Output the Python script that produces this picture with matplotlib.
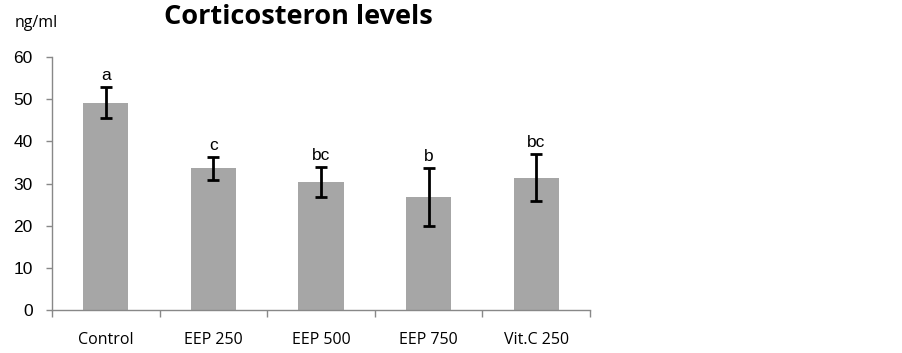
import numpy as np
import matplotlib.pyplot as plt

categories = ["Control", "EEP 250", "EEP 500", "EEP 750", "Vit.C 250"]
means = [49.1, 33.6, 30.3, 26.8, 31.3]
err_up = [52.8, 36.3, 33.8, 33.7, 36.9]
err_low = [45.5, 30.9, 26.9, 20.0, 25.9]
letters = ["a", "c", "bc", "b", "bc"]

means = np.array(means)
yerr = [means - np.array(err_low), np.array(err_up) - means]

fig = plt.figure(figsize=(9.02, 3.53), dpi=100)
ax = fig.add_axes([52 / 902, 1 - 310 / 353, 538 / 902, 253 / 353])

x = np.arange(len(categories))
ax.bar(x, means, width=0.42, color="#A6A6A6", zorder=2)
ax.errorbar(x, means, yerr=yerr, fmt="none", ecolor="black",
            elinewidth=2, capsize=4, capthick=2, zorder=3)

for xi, top, lab in zip(x, err_up, letters):
    ax.text(xi, top + 1.0, lab, ha="center", va="bottom",
            fontsize=12.5, family="Liberation Sans")

ax.set_xlim(-0.5, len(categories) - 0.5)
ax.set_ylim(0, 60)
ax.set_yticks(np.arange(0, 61, 10))
ax.set_xticks(np.arange(-0.5, len(categories), 1.0))
ax.set_xticklabels([])
ax.set_xticks(x, minor=True)
ax.set_xticklabels(categories, minor=True, family="Open Sans", fontsize=11.5)
ax.tick_params(axis="x", which="minor", length=0, pad=16)
ax.tick_params(axis="x", which="major", length=5, color="#888888", width=1)
ax.tick_params(axis="y", length=4.3, color="#888888", width=1, pad=9.5)
for t in ax.get_yticklabels():
    t.set_family("Liberation Sans")
    t.set_fontsize(12.5)

for s in ["top", "right"]:
    ax.spines[s].set_visible(False)
for s in ["left", "bottom"]:
    ax.spines[s].set_color("#888888")
    ax.spines[s].set_linewidth(1)

fig.text(15 / 902, 1 - 23 / 353, "ng/ml", fontsize=11.5, family="Open Sans",
         va="center", ha="left")
fig.text(298 / 902, 1 - 17 / 353, "Corticosteron levels", fontsize=19.5,
         fontweight="bold", family="Open Sans", ha="center", va="center")

fig.savefig("out.png", dpi=100)
